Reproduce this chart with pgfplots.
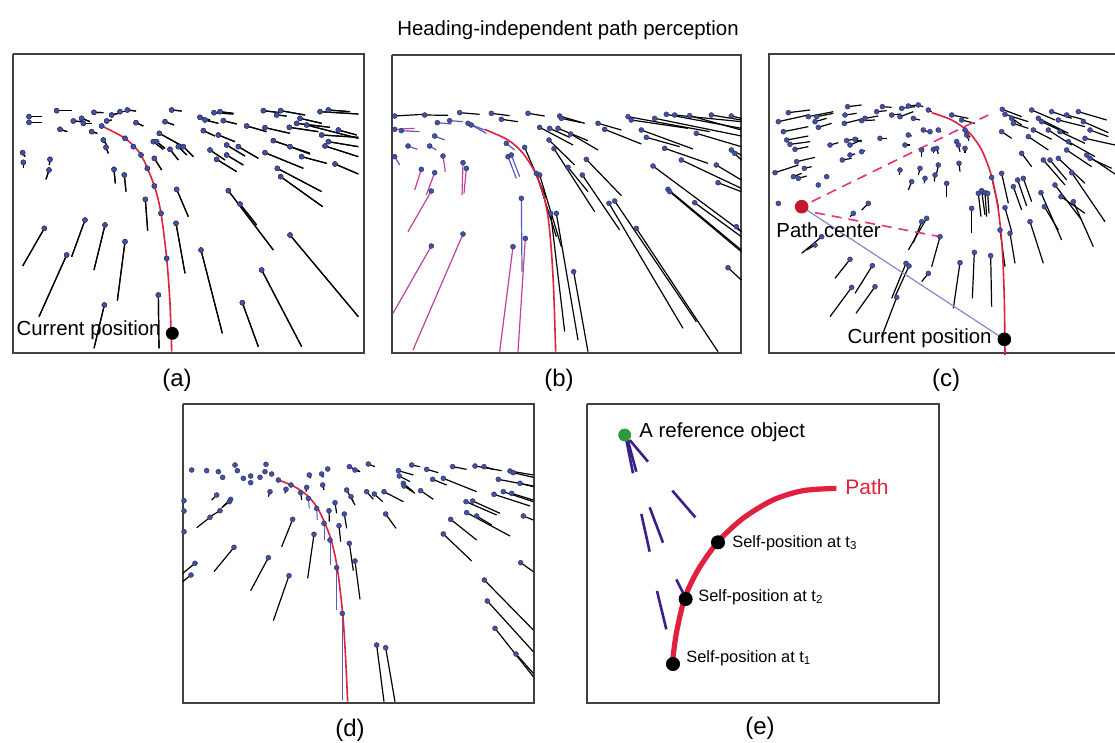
\documentclass[border=0pt]{standalone}
\usepackage{pgfplots}
\pgfplotsset{compat=1.18}
\usepackage{fontspec}
\setmainfont{Liberation Sans}
\definecolor{dotblue}{HTML}{4450A0}
\definecolor{pathred}{HTML}{E0203C}
\definecolor{framegray}{HTML}{404040}
\definecolor{magline}{HTML}{C0409A}
\definecolor{blueline}{HTML}{5A5AB8}
\definecolor{dashmag}{HTML}{E8317A}
\definecolor{lav}{HTML}{8888C8}
\definecolor{indigo}{HTML}{3B1E8C}
\definecolor{refgreen}{HTML}{2E9A40}
\definecolor{centerred}{HTML}{C41830}
\pgfplotsset{
  panel/.style={scale only axis, hide axis, clip=false, y dir=reverse, xmin=0, ymin=0, anchor=north west},
  segs/.style={black, line width=0.6pt, quiver={u=\thisrow{x2}-\thisrow{x}, v=\thisrow{y2}-\thisrow{y}},
     mark=*, mark size=1.25pt, mark options={fill=dotblue, draw=dotblue!60!black, line width=0.2pt, solid}},
  frame/.style={framegray, line width=1pt, no marks},
}
\pgfplotstableread{
x y x2 y2
57 200 95 200
57 217 95 217
140 182 185 182
150 238 172 245
190 213 215 215
215 205 240 215
220 220 245 220
252 187 280 188
245 245 262 250
290 213 305 210
305 195 325 190
330 185 355 185
352 180 378 183
378 218 400 228
465 215 492 225
485 180 515 183
570 202 600 210
585 210 625 220
612 188 670 192
630 185 670 190
640 212 680 222
580 242 615 258
625 255 675 275
710 228 770 245
760 182 810 188
800 195 830 198
812 182 885 195
765 233 840 250
838 232 925 245
860 220 960 232
870 205 935 220
930 185 1045 192
955 180 1020 185
935 255 1045 262
955 275 1045 290
945 288 1045 320
890 225 1045 265
985 240 1040 255
790 272 900 310
840 290 900 312
875 320 950 340
975 342 1045 372
765 308 880 355
802 355 935 425
812 380 938 470
650 285 705 318
685 290 745 325
600 300 645 330
620 328 680 365
650 315 700 345
430 275 460 298
440 275 465 295
448 250 520 290
480 298 505 330
505 290 530 315
520 290 550 320
433 325 455 360
280 270 290 285
288 292 295 310
38 308 45 320
40 337 40 355
120 328 118 345
117 360 108 388
312 358 316 400
343 375 348 425
406 448 413 542
500 418 535 500
498 520 525 670
655 422 790 600
690 462 740 525
840 555 1045 800
755 660 875 890
697 758 745 890
573 600 637 850
445 735 447 895
283 765 252 895
345 575 322 752
285 525 252 660
225 510 185 620
170 615 87 800
103 535 38 648
275 228 275 228
345 265 345 265
370 290 370 290
393 315 393 315
412 355 412 355
433 408 433 408
453 490 453 490
470 625 470 625
}\tabA
\pgfplotstableread{
x y x2 y2
20 198 105 193
110 195 180 196
215 188 275 193
310 190 365 197
420 190 470 198
515 198 590 220
520 205 580 218
340 208 390 215
630 220 700 240
650 238 760 282
720 200 965 245
730 210 900 235
760 240 915 297
775 262 875 290
835 193 1060 235
860 195 1060 215
905 197 1060 240
970 195 1060 210
1030 198 1060 205
800 205 1060 258
925 250 1060 290
830 295 960 340
880 330 1060 415
985 345 1060 390
1030 300 1060 315
1040 310 1060 330
795 348 1060 545
840 418 1060 600
845 425 1060 605
920 458 1060 560
990 398 1060 425
1045 530 1060 545
1020 653 1060 690
455 232 555 285
485 235 545 262
510 235 600 272
548 252 630 300
483 270 560 345
498 296 620 485
540 352 600 425
595 328 700 437
583 375 695 540
663 460 885 835
680 453 925 815
745 535 990 905
557 665 600 905
505 490 570 870
488 490 530 845
455 375 520 590
445 370 505 560
410 292 475 445
}\tabBk
\pgfplotstableread{
x y x2 y2
360 320 385 385
370 315 395 380
355 280 380 300
250 225 295 250
240 220 290 240
148 218 190 222
185 212 225 215
140 258 170 270
125 288 145 300
60 288 88 298
20 320 35 345
40 242 95 245
400 445 402 665
}\tabBb
\pgfplotstableread{
x y x2 y2
20 238 80 235
165 318 172 365
100 358 80 420
140 368 115 435
130 423 60 545
225 552 75 900
130 588 15 790
225 338 222 435
235 355 228 430
375 590 335 905
412 565 390 905
}\tabBm
\pgfplotstableread{
x y x2 y2
70 188 135 180
40 215 130 195
55 245 130 230
65 270 130 258
75 283 135 275
90 298 130 290
95 335 150 322
30 368 100 345
118 355 140 350
85 380 110 370
100 385 125 378
130 200 205 185
160 232 200 220
150 215 185 205
155 200 205 190
240 195 275 190
248 170 290 165
238 220 300 205
290 212 330 210
300 205 340 198
245 272 280 265
255 285 290 270
270 268 290 275
195 285 220 278
232 330 260 325
255 315 270 312
290 305 300 302
185 380 190 378
160 405 162 405
335 185 365 182
352 170 380 172
380 195 408 192
410 175 450 170
405 200 445 185
430 168 460 165
445 205 465 210
460 165 475 170
345 265 365 265
420 285 435 285
430 255 440 258
475 240 490 245
495 245 500 248
520 240 528 245
490 180 500 185
470 300 470 322
505 298 505 310
515 295 520 312
580 285 585 305
600 295 600 310
575 275 578 290
520 345 515 370
582 340 585 365
465 355 460 375
480 385 478 400
510 375 508 395
405 360 403 375
440 395 430 420
545 400 545 440
620 475 620 550
640 430 648 500
650 422 660 495
660 428 665 500
668 430 672 490
680 382 700 470
710 370 730 460
720 473 740 545
745 410 770 480
758 390 785 468
775 385 800 455
705 540 720 650
735 550 750 640
628 607 622 745
677 617 680 770
585 638 565 775
795 515 835 640
828 428 890 570
838 470 880 540
870 405 950 510
888 440 960 490
920 368 1020 515
925 455 985 590
770 310 800 350
835 330 900 405
855 330 905 390
880 325 960 400
905 300 980 350
965 315 1050 372
975 325 1040 355
712 178 770 200
720 193 790 215
740 205 770 225
745 220 790 235
800 180 870 210
805 240 860 268
820 205 910 250
830 215 900 248
850 240 920 285
860 185 920 205
880 210 960 230
885 245 960 280
905 195 960 210
910 275 990 320
940 185 1025 210
955 215 1030 248
960 265 1050 285
975 240 1030 260
790 260 850 300
710 245 740 265
560 195 610 205
590 210 630 220
600 240 615 262
605 255 612 272
255 628 210 685
260 712 195 800
322 647 270 730
330 710 273 790
423 640 380 745
432 648 390 740
395 742 350 860
485 505 430 600
470 515 445 578
525 560 500 650
310 460 290 480
265 490 255 500
170 560 110 610
150 585 125 600
40 460 40 460
490 670 470 695
}\tabC
\pgfplotstableread{
x y x2 y2
35 210 35 210
80 212 80 212
115 215 115 215
128 232 128 232
165 195 165 195
172 212 172 212
190 235 190 235
212 228 212 228
212 248 212 248
240 232 240 232
255 215 255 215
258 193 258 193
275 222 275 222
12 302 12 302
12 333 12 333
12 395 12 395
270 275 265 290
318 268 315 280
362 278 365 300
380 262 378 275
388 225 392 235
425 222 430 232
443 207 447 212
428 255 432 270
465 308 470 340
447 332 448 365
477 377 482 425
493 342 500 385
508 430 520 512
525 483 540 598
402 403 383 535
338 358 305 440
327 527 280 662
265 473 212 572
162 442 102 515
152 298 128 320
148 305 125 323
110 285 95 300
90 352 50 383
120 332 90 350
45 490 8 520
33 525 8 545
508 200 540 215
525 210 540 215
565 192 585 200
500 270 525 315
513 290 520 305
560 275 580 298
583 282 608 305
612 275 670 305
617 342 648 385
655 212 700 225
658 228 690 245
670 250 700 275
672 258 705 280
722 272 760 298
695 195 720 200
740 208 775 218
758 238 800 255
790 235 890 275
818 200 860 208
885 198 965 212
912 200 940 208
990 213 1060 225
1000 218 1060 232
955 238 1060 258
1020 250 1060 260
942 283 1050 318
970 275 1060 305
995 280 1060 300
858 305 950 345
878 303 960 340
860 338 990 408
890 348 935 375
1030 348 1060 360
812 358 890 420
790 402 875 483
1022 488 1060 515
913 540 1060 690
922 603 1060 755
945 685 1060 830
1008 762 1060 820
590 735 612 905
617 743 645 905
}\tabD
\pgfplotstableread{
x y x2 y2
385 295 388 325
410 325 412 360
432 370 432 420
450 420 450 495
470 503 470 630
487 640 487 900
}\tabDb
\pgfplotstableread{
x y x2 y2
295 240 295 240
333 255 333 255
385 295 385 295
410 325 410 325
432 370 432 370
450 420 450 420
470 503 470 503
487 640 487 640
}\tabDc
\pgfplotstableread{
x y x2 y2
128 110 150 220
132 112 160 215
140 120 195 185
268 272 337 352
175 342 200 455
200 322 240 428
222 573 250 688
280 538 300 578
}\tabE
\begin{document}
\begin{tikzpicture}
\useasboundingbox (0,0) rectangle (557.5pt,-371.5pt);
% (a)
\begin{axis}[panel, at={(5pt,-25pt)}, width=179pt, height=153pt, xmax=1074, ymax=918]
\addplot[frame] coordinates {(10,12)(1062,12)(1062,908)(10,908)(10,12)};
\addplot[segs] table {\tabA};
\addplot[pathred, line width=0.8pt, smooth, no marks] coordinates {(275,228)(345,265)(393,315)(433,408)(453,490)(470,625)(480,760)(485,905)};
\addplot[segs] table {\tabA};
\addplot[only marks, mark=*, mark size=3pt, black] coordinates {(487,850)};
\end{axis}
% (b)
\begin{axis}[panel, at={(194pt,-25pt)}, width=179pt, height=153pt, xmax=1074, ymax=918]
\addplot[frame] coordinates {(12,15)(1060,15)(1060,910)(12,910)(12,15)};
\addplot[segs] table {\tabBk};
\addplot[segs, magline, line width=0.6pt] table {\tabBm};
\addplot[segs, blueline, line width=0.6pt] table {\tabBb};
\addplot[pathred, line width=0.8pt, smooth, no marks] coordinates {(290,238)(360,270)(405,310)(440,365)(465,430)(480,500)(490,600)(497,720)(503,905)};
\end{axis}
% (c)
\begin{axis}[panel, at={(382.5pt,-25pt)}, width=175pt, height=153pt, xmax=1050, ymax=918]
\addplot[frame] coordinates {(1050,12)(12,12)(12,908)(1050,908)};
\addplot[segs] table {\tabC};
\addplot[lav, line width=0.6pt, no marks] coordinates {(110,470)(718,868)};
\addplot[dashmag, line width=0.8pt, dash pattern=on 5pt off 3.5pt, no marks] coordinates {(140,455)(670,195)};
\addplot[dashmag, line width=0.8pt, dash pattern=on 5pt off 3.5pt, no marks] coordinates {(150,488)(525,560)};
\addplot[pathred, line width=0.8pt, smooth, no marks] coordinates {(500,188)(560,210)(610,245)(650,300)(680,380)(700,480)(712,600)(718,750)(720,915)};
\addplot[only marks, mark=*, mark size=3.2pt, black] coordinates {(718,868)};
\addplot[only marks, mark=*, mark size=3.2pt, centerred] coordinates {(110,470)};
\end{axis}
% (d)
\begin{axis}[panel, at={(90pt,-200pt)}, width=179pt, height=153pt, xmax=1074, ymax=918]
\addplot[frame] coordinates {(10,13)(1062,13)(1062,910)(10,910)(10,13)};
\addplot[segs] table {\tabD};
\addplot[blueline, line width=0.5pt, no marks, quiver={u=\thisrow{x2}-\thisrow{x}, v=\thisrow{y2}-\thisrow{y}}] table {\tabDb};
\addplot[pathred, line width=0.8pt, smooth, no marks] coordinates {(295,240)(340,258)(380,285)(410,320)(435,370)(455,425)(472,505)(488,640)(496,760)(503,905)};
\addplot[segs] table {\tabDc};
\end{axis}
% (e)
\begin{axis}[panel, at={(291.5pt,-200pt)}, width=180pt, height=153pt, xmax=1080, ymax=918]
\addplot[frame] coordinates {(12,12)(1068,12)(1068,908)(12,908)(12,12)};
\addplot[indigo, line width=1.3pt, no marks, quiver={u=\thisrow{x2}-\thisrow{x}, v=\thisrow{y2}-\thisrow{y}}] table {\tabE};
\addplot[pathred, line width=2.6pt, smooth, no marks] coordinates {(268,790)(280,700)(305,595)(345,510)(405,425)(480,355)(570,300)(660,272)(760,265)};
\addplot[only marks, mark=*, mark size=3.3pt, black] coordinates {(270,792)(308,597)(405,427)};
\addplot[only marks, mark=*, mark size=3pt, refgreen] coordinates {(125,105)};
\end{axis}
% texts
\node[font=\fontsize{10.2}{12}\selectfont] at (284pt,-15pt) {Heading-independent path perception};
\node[font=\fontsize{10.2}{12}\selectfont, anchor=east, inner sep=0pt] at (80.5pt,-165pt) {Current position};
\node[font=\fontsize{10.2}{12}\selectfont, anchor=west, inner sep=0pt] at (388pt,-115pt) {Path center};
\node[font=\fontsize{10.2}{12}\selectfont, anchor=east, inner sep=0pt] at (496pt,-169pt) {Current position};
\node[font=\fontsize{10.2}{12}\selectfont, anchor=west, inner sep=0pt] at (319.5pt,-216pt) {A reference object};
\node[font=\fontsize{10.5}{12}\selectfont, anchor=west, inner sep=0pt, text=pathred] at (422.5pt,-243.5pt) {Path};
\node[font=\fontsize{8.2}{10}\selectfont, anchor=west, inner sep=0pt] at (366pt,-271.5pt) {Self-position at t\textsubscript{3}};
\node[font=\fontsize{8.2}{10}\selectfont, anchor=west, inner sep=0pt] at (349pt,-298.5pt) {Self-position at t\textsubscript{2}};
\node[font=\fontsize{8.2}{10}\selectfont, anchor=west, inner sep=0pt] at (343pt,-329pt) {Self-position at t\textsubscript{1}};
\foreach \p/\l in {{88.5pt,-190pt}/(a),{279.5pt,-190pt}/(b),{473pt,-190pt}/(c),{175pt,-365pt}/(d),{380pt,-364pt}/(e)}
  \node[font=\fontsize{12}{14}\selectfont] at (\p) {\l};
\end{tikzpicture}
\end{document}
